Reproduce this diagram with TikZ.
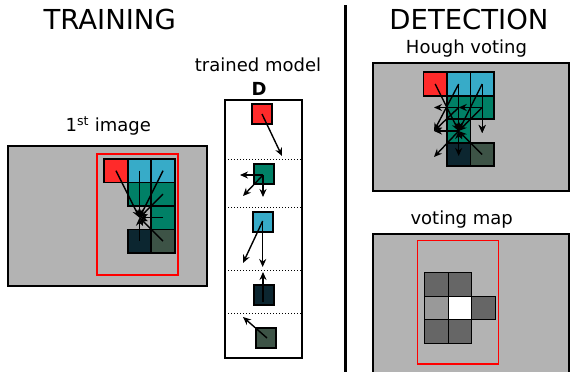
\documentclass[tikz,border=0pt]{standalone}
\usepackage{fontspec}
\setmainfont{DejaVu Sans}
\usetikzlibrary{arrows.meta}
\definecolor{pred}{HTML}{FF2A2A}
\definecolor{pblue}{HTML}{37ABC8}
\definecolor{pgreen}{HTML}{008066}
\definecolor{pnavy}{HTML}{0C2630}
\definecolor{pdkg}{HTML}{3D5346}
\definecolor{bggray}{HTML}{B3B3B3}
\definecolor{vdark}{HTML}{666666}
\definecolor{vlight}{HTML}{999999}
\begin{document}
\begin{tikzpicture}[x=1pt,y=-1pt,
  title/.style={inner sep=0pt,anchor=base,font=\fontsize{27.5}{30}\selectfont},
  lbl/.style={inner sep=0pt,anchor=base,font=\fontsize{18}{20}\selectfont},
  panel/.style={draw=black,fill=bggray,line width=2pt},
  roi/.style={draw=red,line width=1.5pt},
  cell/.style={draw=black,line width=1.7pt,minimum size=23.5pt,inner sep=0pt},
  mcell/.style={draw=black,line width=1.6pt,minimum size=20pt,inner sep=0pt},
  vcell/.style={draw=black,line width=1pt,minimum size=23.5pt,inner sep=0pt},
  arr/.style={line width=1.4pt,-{Stealth[length=8pt,width=7pt]}},
  sep/.style={line width=1pt,dotted}]
\useasboundingbox (0,0) rectangle (571,372);

% titles
\node[title] (ttrain) at (109.7,30) {TRAINING};
\node[title] (tdet) at (469,30) {DETECTION};
\coordinate (divtop) at (345,5);
\coordinate (divbot) at (345,375);
\draw[line width=3pt] (divtop) -- (divbot);

% ---------- training image ----------
\node[lbl] (limg) at (108.3,131.7) {1\textsuperscript{st} image};
\draw[panel] (8,146) rectangle (207,286);
\draw[roi] (97,154) rectangle (178,275);
\node[cell,fill=pred]   (tr)  at (116,170.7) {};
\node[cell,fill=pblue]  (tb1) at (139.5,170.7) {};
\node[cell,fill=pblue]  (tb2) at (163,170.7) {};
\node[cell,fill=pgreen] (tg1) at (139.5,194.2) {};
\node[cell,fill=pgreen] (tg2) at (163,194.2) {};
\node[cell,fill=pgreen] (tg3) at (163,217.7) {};
\node[cell,fill=pnavy]  (tn)  at (139.5,241.2) {};
\node[cell,fill=pdkg]   (td)  at (163,241.2) {};
\coordinate (tc) at (139.5,217.7);
\foreach \n in {tr,tb1,tb2,tg1,tg2,tg3,tn,td}
  \draw[arr] (\n.center) -- (tc);

% ---------- trained model ----------
\node[lbl] (lmodel) at (258,71.5) {trained model};
\node[lbl,font=\fontsize{18}{20}\selectfont\bfseries] (lD) at (259,95) {D};
\draw[black,line width=1.2pt,fill=white] (225,100) rectangle (302,358);
\coordinate (s1l) at (225,159); \coordinate (s1r) at (302,159);
\coordinate (s2l) at (225,207); \coordinate (s2r) at (302,207);
\coordinate (s3l) at (225,270); \coordinate (s3r) at (302,270);
\coordinate (s4l) at (225,313); \coordinate (s4r) at (302,313);
\draw[sep] (s1l) -- (s1r);
\draw[sep] (s2l) -- (s2r);
\draw[sep] (s3l) -- (s3r);
\draw[sep] (s4l) -- (s4r);
\node[mcell,fill=pred]   (mr) at (262,114) {};
\node[mcell,fill=pgreen] (mg) at (264,174) {};
\node[mcell,fill=pblue]  (mb) at (263,222) {};
\node[mcell,fill=pnavy]  (mn) at (264,295) {};
\node[mcell,fill=pdkg]   (md) at (266,338) {};
\coordinate (mr1) at (282,156);
\coordinate (mgo) at (263,175);
\coordinate (mg1) at (240,175);
\coordinate (mg2) at (243,196);
\coordinate (mg3) at (263,197);
\coordinate (mbo) at (262.7,221);
\coordinate (mb1) at (262.7,267);
\coordinate (mb2) at (243,263);
\coordinate (mno) at (263,302);
\coordinate (mn1) at (263,272);
\coordinate (mdo) at (267,338);
\coordinate (md1) at (243,317);
\draw[arr] (mr.center) -- (mr1);
\draw[arr] (mgo) -- (mg1);
\draw[arr] (mgo) -- (mg2);
\draw[arr] (mgo) -- (mg3);
\draw[arr] (mbo) -- (mb1);
\draw[arr] (mbo) -- (mb2);
\draw[arr] (mno) -- (mn1);
\draw[arr] (mdo) -- (md1);

% ---------- Hough voting ----------
\node[lbl] (lhough) at (466.5,53) {Hough voting};
\draw[panel] (372.5,62.5) rectangle (569,190.5);
\node[cell,fill=pred]   (dr)  at (435.2,84) {};
\node[cell,fill=pblue]  (db1) at (458.7,84) {};
\node[cell,fill=pblue]  (db2) at (482.2,84) {};
\node[cell,fill=pgreen] (dg1) at (458.7,107.5) {};
\node[cell,fill=pgreen] (dg2) at (482.2,107.5) {};
\node[cell,fill=pgreen] (dg3) at (458.7,131) {};
\node[cell,fill=pnavy]  (dn)  at (458.7,154.5) {};
\node[cell,fill=pdkg]   (dd)  at (482.2,154.5) {};
\coordinate (vC)  at (458.7,131);
\coordinate (vL)  at (434,131);
\coordinate (vR)  at (482.2,133);
\coordinate (vUL) at (434,107.5);
\coordinate (vU)  at (458.7,107.5);
\coordinate (vB)  at (458.7,156);
\coordinate (vBL) at (434,157);
\draw[arr] (dr.center) -- (vC);
\draw[arr] (db1.center) -- (vC);
\draw[arr] (db1.center) -- (vL);
\draw[arr] (db2.center) -- (vR);
\draw[arr] (db2.center) -- (vC);
\draw[arr] (dg1.center) -- (vC);
\draw[arr] (dg1.center) -- (vL);
\draw[arr] (dg1.center) -- (vUL);
\draw[arr] (dg2.center) -- (vR);
\draw[arr] (dg2.center) -- (vC);
\draw[arr] (dg2.center) -- (vU);
\draw[arr] (dg3.center) -- (vB);
\draw[arr] (dg3.center) -- (vBL);
\draw[arr] (dg3.center) -- (vL);
\draw[arr] (dn.center) -- (vC);
\draw[arr] (dd.center) -- (vC);

% ---------- voting map ----------
\node[lbl] (lvmap) at (461.7,224) {voting map};
\draw[panel] (372.5,233.5) rectangle (569,380);
\draw[roi] (417.3,240.7) rectangle (498.7,364);
\node[vcell,fill=vdark]  (v11) at (436.3,284.7) {};
\node[vcell,fill=vdark]  (v12) at (459.8,284.7) {};
\node[vcell,fill=vlight] (v21) at (436.3,308.2) {};
\node[vcell,fill=white]  (v22) at (459.8,308.2) {};
\node[vcell,fill=vdark]  (v23) at (483.3,308.2) {};
\node[vcell,fill=vdark]  (v31) at (436.3,331.7) {};
\node[vcell,fill=vdark]  (v32) at (459.8,331.7) {};
\end{tikzpicture}
\end{document}
